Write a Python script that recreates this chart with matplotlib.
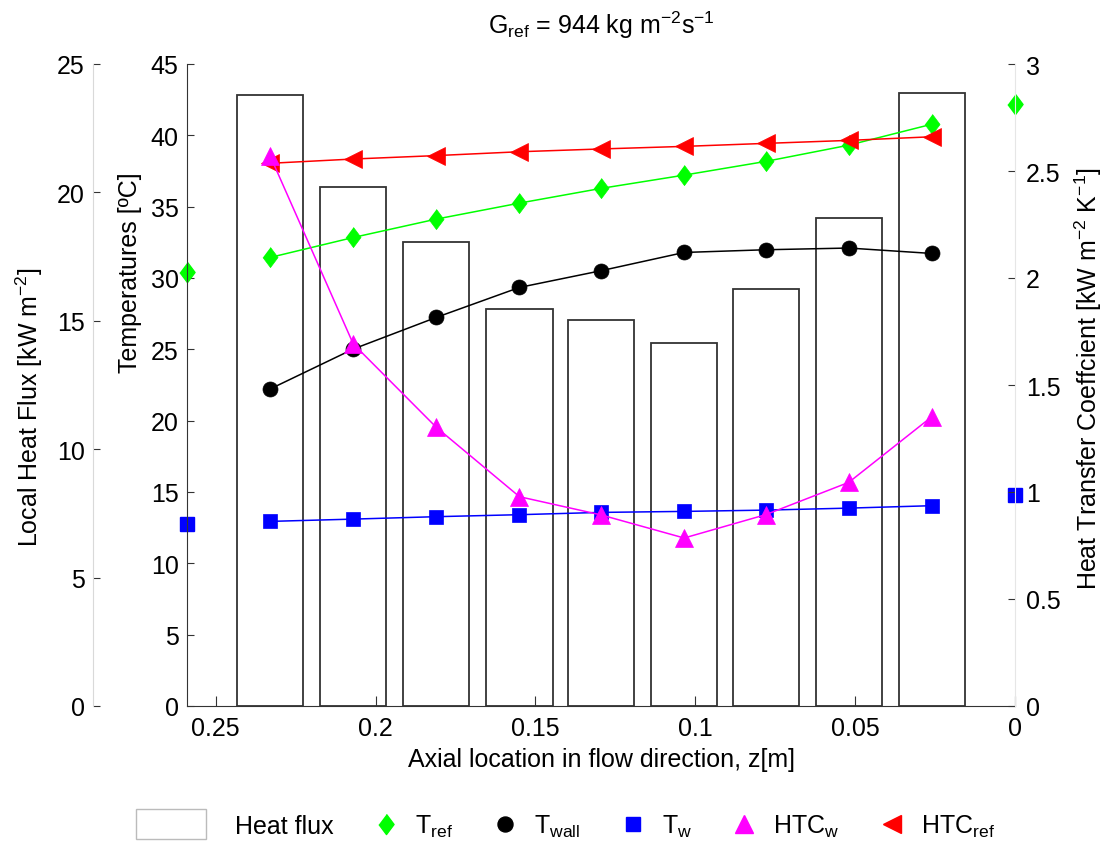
import matplotlib.pyplot as plt
from matplotlib.lines import Line2D
from matplotlib.patches import Rectangle
from matplotlib.legend_handler import HandlerPatch

plt.rcParams['font.family'] = 'Liberation Sans'
plt.rcParams['mathtext.fontset'] = 'custom'
plt.rcParams['mathtext.rm'] = 'Liberation Sans'
plt.rcParams['mathtext.it'] = 'Liberation Sans:italic'
plt.rcParams['mathtext.bf'] = 'Liberation Sans:bold'

# axial positions [m]: inlet, outlet and centres of the nine heated segments
z_in = 0.259
z_out = 0.0
z = [0.233, 0.207, 0.181, 0.155, 0.1295, 0.1035, 0.078, 0.052, 0.026]
seg_width = 0.0207

# local heat flux per segment [kW m-2]
heat_flux = [23.81, 20.22, 18.07, 15.45, 15.02, 14.14, 16.23, 18.99, 23.87]

# temperatures [C]
t_ref = [31.44, 32.84, 34.13, 35.25, 36.28, 37.21, 38.17, 39.31, 40.78]
t_ref_in, t_ref_out = 30.41, 42.19
t_wall = [22.22, 25.02, 27.24, 29.34, 30.51, 31.79, 31.98, 32.10, 31.72]
t_w = [12.94, 13.10, 13.27, 13.41, 13.57, 13.64, 13.73, 13.87, 14.04]
t_w_in, t_w_out = 12.75, 14.81

# heat transfer coefficients [kW m-2 K-1]
htc_w = [2.571, 1.692, 1.302, 0.978, 0.893, 0.785, 0.894, 1.045, 1.352]
htc_ref = [2.536, 2.556, 2.572, 2.590, 2.603, 2.615, 2.629, 2.643, 2.660]

x_ticks = [0.25, 0.2, 0.15, 0.1, 0.05, 0]
x_tick_labels = ['0.25', '0.2', '0.15', '0.1', '0.05', '0']
q_ticks = [0, 5, 10, 15, 20, 25]
t_ticks = [0, 5, 10, 15, 20, 25, 30, 35, 40, 45]
h_ticks = [0, 0.5, 1, 1.5, 2, 2.5, 3]
h_tick_labels = ['0', '0.5', '1', '1.5', '2', '2.5', '3']

FS = 18
dark = '#333333'
light = '#d9d9d9'
diamond = [(0, 1), (0.75, 0), (0, -1), (-0.75, 0)]

fig = plt.figure(figsize=(11.07, 8.45), dpi=100)
ax_q = fig.add_axes([187 / 1107, 138 / 845, 828 / 1107, 642 / 845])
ax_t = ax_q.twinx()
ax_h = ax_q.twinx()
ax_q.set_zorder(1)
ax_t.set_zorder(2)
ax_h.set_zorder(3)

# heat flux bars
ax_q.bar(z, heat_flux, width=seg_width, facecolor='none', edgecolor=dark, linewidth=1.3)
ax_q.set_xlim(z_in, z_out)
ax_q.set_ylim(0, 25)
ax_q.set_xticks(x_ticks)
ax_q.set_xticklabels(x_tick_labels)
ax_q.set_yticks(q_ticks)
for s in ('top', 'right'):
    ax_q.spines[s].set_visible(False)
ax_q.spines['bottom'].set_color(dark)
ax_q.spines['left'].set_position(('axes', -94 / 828))
ax_q.spines['left'].set_color(light)
ax_q.tick_params(axis='x', direction='in', length=7, color=dark, pad=7, labelsize=FS)
ax_q.tick_params(axis='y', direction='in', length=5, color=dark, pad=6, labelsize=FS)
ax_q.set_ylabel('Local Heat Flux [kW m$^{-2}$]', fontsize=FS)
ax_q.yaxis.set_label_coords(-0.171, 0.467)
ax_q.set_xlabel('Axial location in flow direction, z[m]', fontsize=FS)
ax_q.xaxis.set_label_coords(0.5, -0.064)

# temperatures
ax_t.yaxis.tick_left()
ax_t.yaxis.set_label_position('left')
for s in ('top', 'right', 'bottom'):
    ax_t.spines[s].set_visible(False)
ax_t.spines['left'].set_visible(True)
ax_t.spines['left'].set_color(dark)
ax_t.set_ylim(0, 45)
ax_t.set_yticks(t_ticks)
ax_t.tick_params(axis='y', direction='in', length=5, color=dark, pad=6, labelsize=FS)
ax_t.set_ylabel('Temperatures [ºC]', fontsize=FS)
ax_t.yaxis.set_label_coords(-0.054, 0.676)

mk = dict(markeredgewidth=0.5, linewidth=1.1)
ax_t.plot(z, t_ref, color='#00ff00', marker=diamond, markersize=14.5, **mk)
ax_t.plot([z_in, z_out], [t_ref_in, t_ref_out], linestyle='none', color='#00ff00',
          marker=diamond, markersize=14.5, clip_on=False)
ax_t.plot(z, t_wall, color='black', marker='o', markersize=10.8, **mk)
ax_t.plot(z, t_w, color='#0000ff', marker='s', markersize=9.5, **mk)
ax_t.plot([z_in, z_out], [t_w_in, t_w_out], linestyle='none', color='#0000ff',
          marker='s', markersize=9.5, clip_on=False)

# heat transfer coefficients
for s in ('top', 'left', 'bottom'):
    ax_h.spines[s].set_visible(False)
ax_h.spines['right'].set_color('#e6e6e6')
ax_h.set_ylim(0, 3)
ax_h.set_yticks(h_ticks)
ax_h.set_yticklabels(h_tick_labels)
ax_h.tick_params(axis='y', direction='in', length=5, color=dark, pad=8, labelsize=FS)
ax_h.set_ylabel('Heat Transfer Coeffcient [kW m$^{-2}$ K$^{-1}$]', fontsize=FS)
ax_h.yaxis.set_label_coords(1.070, 0.512)
ax_h.plot(z, htc_ref, color='#ff0000', marker='<', markersize=13, **mk)
ax_h.plot(z, htc_w, color='#ff00ff', marker='^', markersize=13, **mk)

fig.text(601 / 1107, 1 - 25 / 845, r'G$_{\mathrm{ref}}$ = 944 kg m$^{-2}$s$^{-1}$',
         ha='center', va='center', fontsize=FS)


def wide_box(legend, orig_handle, xdescent, ydescent, width, height, fontsize):
    return Rectangle((-xdescent - 37, height / 2 - 10.8), 50.4, 21.6)


handles = [
    Rectangle((0, 0), 1, 1, facecolor='white', edgecolor='#bbbbbb', linewidth=1),
    Line2D([], [], linestyle='none', color='#00ff00', marker=diamond, markersize=14.5),
    Line2D([], [], linestyle='none', color='black', marker='o', markersize=10.8),
    Line2D([], [], linestyle='none', color='#0000ff', marker='s', markersize=9.5),
    Line2D([], [], linestyle='none', color='#ff00ff', marker='^', markersize=13),
    Line2D([], [], linestyle='none', color='#ff0000', marker='<', markersize=13),
]
labels = ['Heat flux', r'T$_{\mathrm{ref}}$', r'T$_{\mathrm{wall}}$', r'T$_{\mathrm{w}}$',
          r'HTC$_{\mathrm{w}}$', r'HTC$_{\mathrm{ref}}$']
fig.legend(handles, labels, loc='center', bbox_to_anchor=(0.534, 0.021), ncol=6,
           frameon=False, fontsize=FS, handlelength=1.5, handletextpad=0.4,
           columnspacing=1.35, handler_map={Rectangle: HandlerPatch(patch_func=wide_box)})

fig.savefig('out.png', dpi=100)
